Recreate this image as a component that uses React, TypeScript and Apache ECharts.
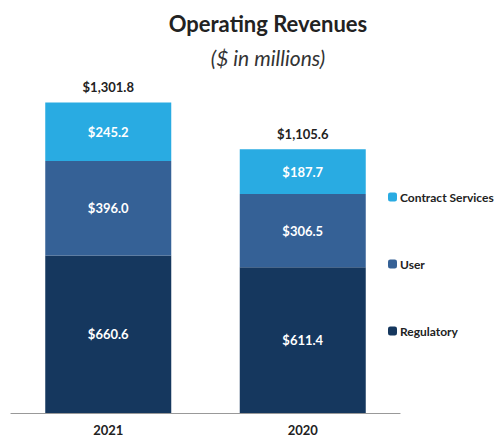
import React, { useEffect, useRef } from "react";
import * as echarts from "echarts";

const categories = ["2021", "2020"];
const regulatory = [660.6, 611.4];
const user = [396.0, 306.5];
const contractServices = [245.2, 187.7];
const totals = [1301.8, 1105.6];

const FONT = "Lato, 'Open Sans', sans-serif";
const fmt = (v: number) =>
  "$" + v.toLocaleString("en-US", { minimumFractionDigits: 1, maximumFractionDigits: 1 });

export default function App() {
  const ref = useRef<HTMLDivElement>(null);
  useEffect(() => {
    const chart = echarts.init(ref.current!, null, { renderer: "svg" });
    const inner = {
      show: true,
      position: "inside",
      color: "#fff",
      fontWeight: "bold",
      fontSize: 13,
      fontFamily: FONT,
      formatter: (p: any) => fmt(p.value),
    };
    chart.setOption({
      animation: false,
      title: [
        {
          text: "Operating Revenues",
          left: 263,
          top: 7,
          textAlign: "center",
          textStyle: { fontFamily: FONT, fontWeight: "bold", fontSize: 22, color: "#222" },
        },
        {
          text: "($ in millions)",
          left: 263,
          top: 42,
          textAlign: "center",
          textStyle: { fontFamily: FONT, fontStyle: "italic", fontWeight: "normal", fontSize: 21, color: "#333" },
        },
      ],
      legend: {
        orient: "vertical",
        left: 383,
        top: 186,
        itemWidth: 9,
        itemHeight: 9,
        itemGap: 55,
        data: ["Contract Services", "User", "Regulatory"],
        textStyle: { fontFamily: FONT, fontWeight: "bold", fontSize: 12, color: "#222", padding: [0, 0, 0, -2] },
      },
      grid: { left: 11, right: 97, top: 79, bottom: 22 },
      xAxis: {
        type: "category",
        data: categories,
        axisLine: { lineStyle: { color: "#999", width: 1.2 } },
        axisTick: { show: false },
        axisLabel: { fontFamily: FONT, fontWeight: "bold", fontSize: 13, color: "#222", margin: 10 },
      },
      yAxis: { type: "value", min: 0, max: 1400, show: false, splitLine: { show: false } },
      series: [
        {
          name: "Regulatory",
          type: "bar",
          stack: "rev",
          barWidth: 126,
          data: regulatory,
          itemStyle: { color: "#15375E" },
          label: inner,
        },
        {
          name: "User",
          type: "bar",
          stack: "rev",
          data: user,
          itemStyle: { color: "#356196" },
          label: inner,
        },
        {
          name: "Contract Services",
          type: "bar",
          stack: "rev",
          data: contractServices,
          itemStyle: { color: "#29ABE2" },
          label: inner,
        },
        {
          name: "Total",
          type: "bar",
          barWidth: 126,
          barGap: "-100%",
          data: totals,
          silent: true,
          z: 0,
          itemStyle: { color: "rgba(0,0,0,0)" },
          label: {
            show: true,
            position: "top",
            distance: 9,
            color: "#222",
            fontWeight: "bold",
            fontSize: 13,
            fontFamily: FONT,
            formatter: (p: any) => fmt(p.value),
          },
        },
      ],
    });
    return () => chart.dispose();
  }, []);
  return <div ref={ref} style={{ width: 497, height: 436, position: "absolute", left: 0, top: 0 }} />;
}
